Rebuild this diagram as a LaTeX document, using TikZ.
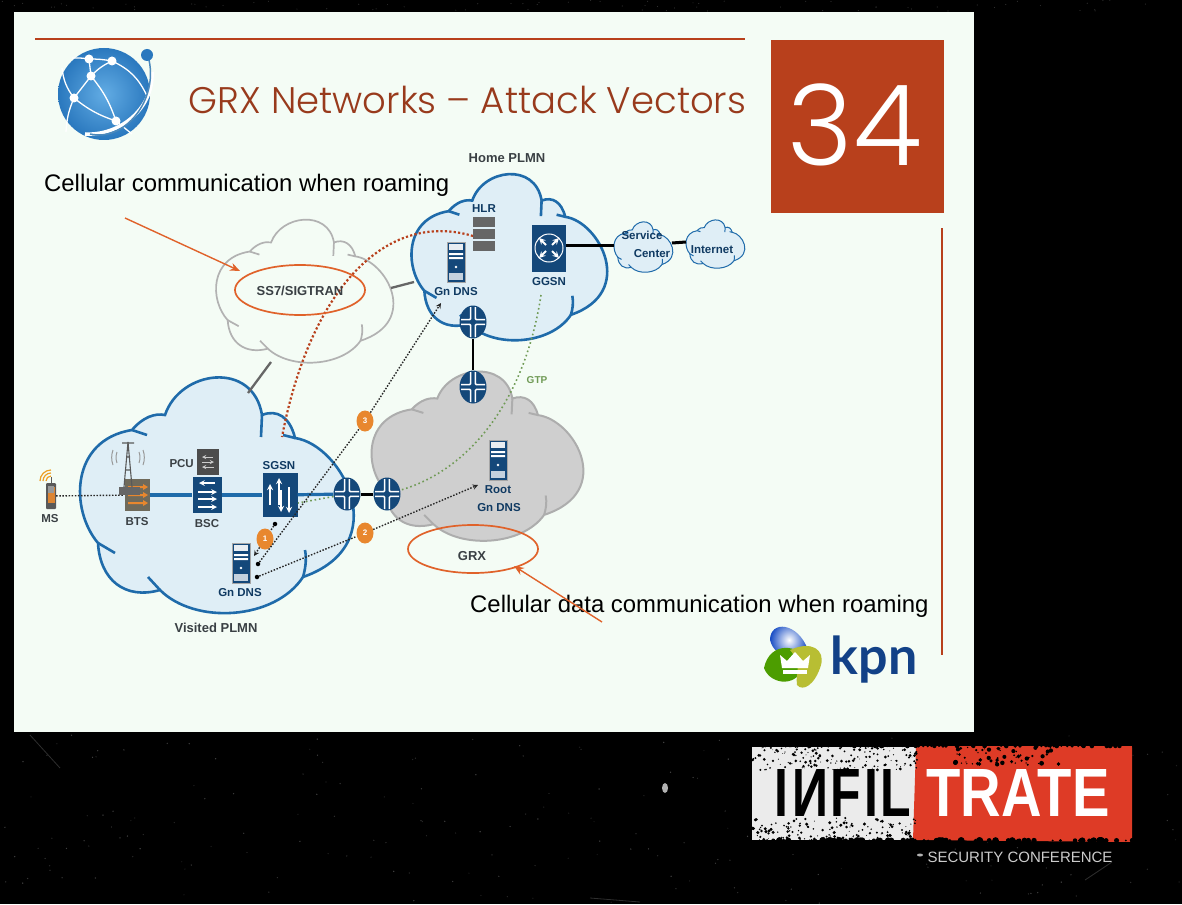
\documentclass[tikz,border=0pt]{standalone}
\usepackage{fontspec}
\setmainfont{Liberation Sans}
\newfontfamily\titlefont{Poppins Light}
\newfontfamily\logofont{Lato}
\usetikzlibrary{shapes.geometric, calc, arrows.meta}
\definecolor{slidebg}{HTML}{F4FCF5}
\definecolor{rust}{HTML}{B8401C}
\definecolor{titlered}{HTML}{983A1C}
\definecolor{navy}{HTML}{14487A}
\definecolor{cloudblue}{HTML}{1F6BAA}
\definecolor{cloudfill}{HTML}{DFEEF6}
\definecolor{annot}{HTML}{E0622A}
\definecolor{badge}{HTML}{E8872E}
\definecolor{labelgrey}{HTML}{3A4044}
\definecolor{gtpgreen}{HTML}{6F9A55}
\definecolor{infred}{HTML}{DE3B26}
\definecolor{btsgrey}{HTML}{6F6A5B}
\definecolor{globelight}{HTML}{62ACE4}
\definecolor{globedark}{HTML}{2A78BE}
% one cloud outline, used at several sizes
\newcommand{\cloudoutline}{(-50,-80) .. controls (-35,-125) and (38,-135) .. (47,-80)
  .. controls (62,-86) and (75,-78) .. (80,-57)
  .. controls (128,-50) and (180,50) .. (88,82)
  .. controls (60,125) and (-20,130) .. (-55,95)
  .. controls (-90,105) and (-115,85) .. (-117,48)
  .. controls (-145,15) and (-145,-55) .. (-83,-65)
  .. controls (-72,-78) and (-60,-82) .. (-50,-80) -- cycle}
\newcommand{\cloudtails}{(47,-80) -- (46,-58) (80,-57) -- (68,-60) (90,55) .. controls (92,65) and (90,75) .. (88,82)
  (-55,95) -- (-67,82) (-117,48) -- (-100,58) (-83,-65) -- (-68,-60)}
\newcommand{\routermark}{\begin{scope}[shift={(path picture bounding box.center)}]
  \draw[white,line width=1.5pt,rounded corners=1pt] (2.4,15) -- (2.4,2.4) -- (12,2.4) (-2.4,15) -- (-2.4,2.4) -- (-12,2.4)
    (2.4,-15) -- (2.4,-2.4) -- (12,-2.4) (-2.4,-15) -- (-2.4,-2.4) -- (-12,-2.4);
  \end{scope}}
\newcommand{\servermark}{\begin{scope}[shift={(path picture bounding box.center)}]
  \fill[navy!10] (-7,-18) rectangle (7,-12);
  \fill[white] (-7,-9) rectangle (7,-7) (-7,-5) rectangle (7,-3);
  \fill[white] (0,5) circle (1.3pt);
  \fill[navy!25] (-7,11) rectangle (7,18);
  \end{scope}}
\tikzset{
  bluecloud/.style={draw=cloudblue,fill=cloudfill,line width=2.6pt},
  smallcloud/.style={draw=cloudblue,fill=cloudfill,line width=1pt},
  greycloud/.style={draw=black!32,fill=black!19,line width=2pt},
  whitecloud/.style={draw=black!30,line width=1.7pt},
  routerbox/.style={ellipse,fill=navy,minimum width=27pt,minimum height=33pt,inner sep=0pt,path picture={\routermark}},
  serverbox/.style={rectangle,fill=navy,draw=black!35,line width=.6pt,minimum width=18pt,minimum height=40pt,inner sep=0pt,path picture={\servermark}},
  devlabel/.style={font=\bfseries\fontsize{11.5}{14}\selectfont,text=labelgrey,inner sep=0pt},
  navylabel/.style={devlabel,text=navy!80!black},
  planlabel/.style={devlabel,font=\bfseries\fontsize{13}{15}\selectfont},
  badgenode/.style={ellipse,fill=badge,text=white,font=\bfseries\fontsize{8}{9}\selectfont,minimum width=17pt,minimum height=21pt,inner sep=0pt},
  callout/.style={font=\fontsize{23.9}{28}\selectfont,text=black,inner sep=0pt},
  ringnode/.style={ellipse,draw=annot,line width=1.7pt,inner sep=0pt},
  annotarrow/.style={-{Stealth[length=10pt,width=8pt]},draw=annot,line width=1.4pt},
  blacklink/.style={draw=black,line width=3pt},
  greylink/.style={draw=black!60,line width=2.3pt},
  bluelink/.style={draw=cloudblue,line width=3.2pt},
  dotlink/.style={draw=black!85,line width=1.4pt,dash pattern=on 1.5pt off 1.6pt},
  reddots/.style={draw=rust,line width=2.2pt,dash pattern=on 2.2pt off 2.2pt},
  greendots/.style={draw=gtpgreen,line width=1.6pt,dash pattern=on 1.6pt off 2.8pt},
  enddot/.style={circle,fill=black,inner sep=0pt,minimum size=4.5pt},
}
\begin{document}
\begin{tikzpicture}[x=1pt,y=-1pt,>=stealth]
  \useasboundingbox (0,0) rectangle (1182,904);
  % backdrop and slide
  \fill[black] (0,0) rectangle (1182,904);
  \pgfmathsetseed{34}
  \foreach \i in {1,...,220}
    {\pgfmathsetmacro\px{rnd*1182}\pgfmathsetmacro\py{735+rnd*169}\pgfmathsetmacro\pg{8+rnd*22}
     \fill[white!\pg!black] (\px,\py) circle (.7pt);}
  \foreach \i in {1,...,70}
    {\pgfmathsetmacro\px{rnd*1182}\pgfmathsetmacro\py{rnd*11}
     \fill[white!18!black] (\px,\py) circle (.6pt);}
  \fill[white!70!black] (665,788) ellipse (3pt and 5pt);
  \draw[white!18!black,line width=.8pt] (30,735) -- (60,768) (1085,880) -- (1112,862) (590,898) -- (640,902);
  \fill[slidebg] (14,12) rectangle (974,732);
  % heading
  \draw[rust,line width=2pt] (35,39) -- (745,39);
  \draw[rust,line width=2.4pt] (942,228) -- (942,655);
  \fill[rust] (771,40) rectangle (944,213);
  \node[text=white,inner sep=0pt,font=\titlefont\fontsize{112}{112}\selectfont] (pagenum) at (855,125) {34};
  \node[text=titlered,inner sep=0pt,font=\titlefont\fontsize{37}{40}\selectfont] (title) at (467.5,100) {GRX Networks – Attack Vectors};
  % globe logo
  \shade[inner color=globelight,outer color=globedark] (104,94) circle (46pt);
  \draw[white,line width=1.3pt] (72,58) to[bend left=5] (89,59) to[bend left=5] (112,61) to[bend left=20] (147,96)
    (89,59) -- (91,76) to[bend left=10] (112,61) (91,76) -- (74,98) to[bend left=15] (62,68)
    (91,76) to[bend left=10] (116,121) to[bend left=10] (74,98) (74,98) to[bend right=10] (66,132) (116,121) -- (132,134);
  \foreach \a/\b in {89/59,112/61,91/76,74/98,116/121}
    {\fill[white] (\a,\b) circle (4.5pt);}
  \draw[white,line width=3.5pt] (152,72) .. controls (154,108) and (120,136) .. (85,134);
  \draw[cloudblue!80!white,line width=1.5pt] (149,60) .. controls (158,100) and (125,142) .. (90,134);
  \fill[globedark] (147,55) circle (6pt);
  % clouds
  \begin{scope}[shift={(303.5,291)},xscale=.648,yscale=.607]
    \draw[whitecloud] \cloudoutline;
    \draw[whitecloud] \cloudtails;
  \end{scope}
  \begin{scope}[shift={(476,456)},xscale=.774,yscale=.718]
    \draw[greycloud] \cloudoutline;
    \draw[greycloud] \cloudtails;
  \end{scope}
  \begin{scope}[shift={(508,257)},xscale=.715,yscale=.705]
    \draw[bluecloud] \cloudoutline;
    \draw[bluecloud] \cloudtails;
  \end{scope}
  \begin{scope}[shift={(215,495)}]
    \draw[bluecloud] \cloudoutline;
    \draw[bluecloud] \cloudtails;
  \end{scope}
  \begin{scope}[shift={(643,247)},xscale=.215,yscale=.214]
    \draw[smallcloud] \cloudoutline;
    \draw[smallcloud] \cloudtails;
  \end{scope}
  \begin{scope}[shift={(715,244)},xscale=.215,yscale=.205]
    \draw[smallcloud] \cloudoutline;
    \draw[smallcloud] \cloudtails;
  \end{scope}
  % devices
  \node[fill=black!65,minimum width=10pt,minimum height=26pt,inner sep=0pt,rounded corners=1pt] (ms) at (51,496) {};
  \node[fill=btsgrey,minimum width=25pt,minimum height=32pt,inner sep=0pt] (bts) at (137,495) {};
  \node[fill=navy,minimum width=29pt,minimum height=36pt,inner sep=0pt] (bsc) at (207,495) {};
  \node[fill=navy,minimum width=35pt,minimum height=44pt,inner sep=0pt] (sgsn) at (280,495) {};
  \node[fill=black!70,minimum width=22pt,minimum height=26pt,inner sep=0pt] (pcu) at (208,462) {};
  \node[serverbox] (vdns) at (241,563) {};
  \node[serverbox] (hdns) at (456,262) {};
  \node[serverbox] (rootdns) at (498,460) {};
  \node[fill=navy,minimum width=34pt,minimum height=47pt,inner sep=0pt] (ggsn) at (549,248) {};
  \node[inner sep=0pt,minimum width=22pt,minimum height=33pt] (hlr) at (484,233) {};
  \coordinate (sslink) at (391,288);
  \coordinate (homelink) at (414,282);
  \coordinate (sslow) at (271,362);
  \coordinate (visitedlink) at (248,393);
  \coordinate (centerlink) at (614,245);
  \coordinate (centerout) at (672,243);
  \coordinate (internetin) at (686,242);
  % links
  \draw[greylink] (sslink) -- (homelink);
  \draw[greylink] (sslow) -- (visitedlink);
  \draw[blacklink] (ggsn.east |- centerlink) -- (centerlink);
  \draw[blacklink] (centerout) -- (internetin);
  \draw[dotlink] (ms) -- (bts);
  \draw[bluelink] (bts) -- (bsc) -- (sgsn);
  \node[routerbox] (vrouter) at (347,494) {};
  \node[routerbox] (grxleft) at (387,494) {};
  \node[routerbox] (homerouter) at (473,322) {};
  \node[routerbox] (grxtop) at (473,387) {};
  \draw[bluelink] (sgsn) -- (vrouter);
  \draw[blacklink] (vrouter) -- (grxleft);
  \draw[blacklink,line width=2.4pt] (homerouter) -- (grxtop);
  % signalling and data paths
  \coordinate (hlrin) at (473,236);
  \coordinate (sgsnup) at (282,437);
  \draw[reddots] (hlrin) .. controls (385,210) and (310,290) .. (sgsnup);
  \coordinate (ggsnout) at (541,295);
  \coordinate (sgsngreen) at (298,503);
  \draw[greendots] (ggsnout) .. controls (525,400) and (470,470) .. (grxleft);
  \draw[greendots] (vrouter) -- (sgsngreen);
  \node[enddot] (one) at (275,524) {};
  \node[enddot] (two) at (258,564) {};
  \node[enddot] (three) at (257,577) {};
  \coordinate (dnsone) at (254,556);
  \coordinate (dnshome) at (441,303);
  \coordinate (rootin) at (478,485);
  \node[badgenode] (badgeone) at (265,539) {1};
  \node[badgenode] (badgetwo) at (365,533) {2};
  \node[badgenode] (badgethree) at (365,421) {3};
  \draw[dotlink,->] (badgeone) -- (dnsone);
  \draw[dotlink] (one) -- (badgeone);
  \draw[dotlink] (two) -- (badgethree);
  \draw[dotlink,->] (badgethree) -- (dnshome);
  \draw[dotlink] (three) -- (badgetwo);
  \draw[dotlink,->] (badgetwo) -- (rootin);
  % device marks
  \foreach \dy in {-8,0,8}
    {\fill[badge] (128,495+\dy-1) -- (143,495+\dy-1) -- (143,495+\dy-3) -- (148,495+\dy) -- (143,495+\dy+3) -- (143,495+\dy+1) -- (128,495+\dy+1) -- cycle;}
  \fill[black!60] (119,487) rectangle (140,495);
  \draw[black!65,line width=1.1pt] (124,487) -- (128,442) -- (132,487) (125,470) -- (131,470) (126,457) -- (130,457) (122,443) -- (134,443);
  \draw[black!40,line width=1pt] (117,452) arc (160:200:16pt) (113,450) arc (160:200:22pt) (139,452) arc (20:-20:16pt) (143,450) arc (20:-20:22pt);
  \draw[white,line width=1.5pt,->] (215,483) -- (199,483);
  \draw[white,line width=1.5pt,->] (198,492) -- (217,492);
  \draw[white,line width=1.5pt,->] (198,499) -- (217,499);
  \draw[white,line width=1.5pt,->] (198,507) -- (217,507);
  \draw[white,line width=1.7pt,->] (270,505) -- (270,484);
  \draw[white,line width=1.7pt,->] (279,505) -- (279,478);
  \draw[white,line width=1.7pt,->] (281,490) -- (281,512);
  \draw[white,line width=1.7pt,->] (289,487) -- (289,513);
  \draw[white,line width=1pt] (549,248) circle (14pt);
  \foreach \sx/\sy in {1/1,1/-1,-1/1,-1/-1}
    {\draw[white,line width=1.8pt,->,shift={(549,248)},xscale=\sx,yscale=\sy] (3,3) -- (10,10);}
  \foreach \dy in {3,15,27}
    {\fill[black!60] (473,217+\dy-3) rectangle (495,217+\dy+7);}
  \draw[white!80!black,line width=.9pt,->] (213,457) -- (202,457);
  \draw[white!80!black,line width=.9pt,->] (202,462) -- (214,462);
  \draw[white!80!black,line width=.9pt,->] (214,467) -- (202,467);
  \fill[badge!70!brown] (47.5,487) rectangle (54.5,503);
  \fill[black!40] (48,486) rectangle (54,493);
  \fill[black!65] (51,483) rectangle (52,477);
  \draw[badge!80!yellow,line width=1.2pt] (46,481) arc (180:90:5pt) (43,481) arc (180:90:8pt) (40,481) arc (180:90:11pt);
  % kpn logo
  \shade[inner color=white,outer color=cloudblue!70!blue] (770,640) .. controls (770,620) and (798,622) .. (808,650) .. controls (800,660) and (775,660) .. (770,640) -- cycle;
  \fill[green!45!black!70!yellow] (764,668) .. controls (770,640) and (800,645) .. (806,660) .. controls (800,690) and (770,685) .. (764,668) -- cycle;
  \fill[yellow!75!black!90!green] (790,650) .. controls (812,640) and (825,650) .. (821,665) .. controls (815,685) and (803,692) .. (797,685) .. controls (795,672) and (803,665) .. (790,650) -- cycle;
  \fill[white] (782,668) -- (780,655) -- (787,661) -- (795,652) -- (803,661) -- (810,655) -- (808,668) -- cycle;
  \fill[white] (783,670) rectangle (807,674);
  \node[text=navy!90!blue,inner sep=0pt,font=\logofont\bfseries\fontsize{52}{56}\selectfont] (kpn) at (874,660) {kpn};
  % infiltrate logo
  \fill[white!92!black] (752,747) rectangle (917,840);
  \fill[infred] (916,746) -- (1132,746) -- (1132,842) -- (913,840) -- cycle;
  \foreach \i in {1,...,150}
    {\pgfmathsetmacro\px{752+rnd*165}\pgfmathsetmacro\py{747+rnd*23}\pgfmathsetmacro\pr{.4+rnd*1.2}
     \fill[black] (\px,\py) circle (\pr pt);
     \pgfmathsetmacro\px{752+rnd*165}\pgfmathsetmacro\py{818+rnd*23}\pgfmathsetmacro\pr{.4+rnd*1.3}
     \fill[black] (\px,\py) circle (\pr pt);}
  \foreach \i in {1,...,60}
    {\pgfmathsetmacro\px{955+rnd*105}\pgfmathsetmacro\py{747+rnd*18}\pgfmathsetmacro\pr{.5+rnd*2}
     \fill[black] (\px,\py) circle (\pr pt);}
  % rough edges of the logo
  \foreach \i in {1,...,95}
    {\pgfmathsetmacro\px{750+rnd*385}\pgfmathsetmacro\pr{1+rnd*2.5}
     \fill[black] (\px,840.5) circle (\pr pt);
     \pgfmathsetmacro\px{750+rnd*385}\pgfmathsetmacro\pr{.8+rnd*1.6}
     \fill[black] (\px,746) circle (\pr pt);}
  \node[inner sep=0pt,text=black] (infil) at (843,793) {\resizebox{137pt}{47pt}{\bfseries I\kern.08em\reflectbox{N}\kern.04emF\kern.06emI\kern.06emL}};
  \node[inner sep=0pt,text=white] (trate) at (1018,793) {\resizebox{183pt}{47pt}{\bfseries TRATE}};
  \node[inner sep=0pt,text=white!80!black,font=\fontsize{15}{17}\selectfont] (secconf) at (1020,857) {SECURITY CONFERENCE};
  \fill[white!70!black] (920,855) ellipse (3pt and 1.5pt);
  % labels
  \node[planlabel] at (507,158) {Home PLMN};
  \node[planlabel] at (216,628) {Visited PLMN};
  \node[devlabel] at (50,519) {MS};
  \node[devlabel] at (137,522) {BTS};
  \node[devlabel] at (207,524) {BSC};
  \node[devlabel,anchor=east] at (194,464) {PCU};
  \node[navylabel] at (279,466) {SGSN};
  \node[navylabel] at (240,593) {Gn DNS};
  \node[navylabel] at (456,292) {Gn DNS};
  \node[navylabel] at (484,209) {HLR};
  \node[navylabel] at (549,282) {GGSN};
  \node[navylabel] at (498,490) {Root};
  \node[navylabel] at (499,508) {Gn DNS};
  \node[navylabel] at (642,235) {Service};
  \node[navylabel] at (652,254) {Center};
  \node[navylabel] at (712,250) {Internet};
  \node[devlabel,text=gtpgreen,font=\bfseries\fontsize{10}{12}\selectfont] at (537,380) {GTP};
  % callouts
  \node[ringnode,minimum width=130pt,minimum height=50pt] (ssring) at (300,290) {};
  \node[ringnode,minimum width=130pt,minimum height=48pt] (grxring) at (473,549) {};
  \node[planlabel] at (300,291) {SS7/SIGTRAN};
  \node[planlabel] at (472,556) {GRX};
  \node[callout,anchor=west] (ssnote) at (44,185) {Cellular communication when roaming};
  \node[callout,anchor=west] (grxnote) at (470,606) {Cellular data communication when roaming};
  \coordinate (sstail) at (125,218);
  \coordinate (sshead) at (240,271);
  \coordinate (grxtail) at (602,622);
  \coordinate (grxhead) at (514,566);
  \draw[annotarrow] (sstail) -- (sshead);
  \draw[annotarrow] (grxtail) -- (grxhead);
\end{tikzpicture}
\end{document}
